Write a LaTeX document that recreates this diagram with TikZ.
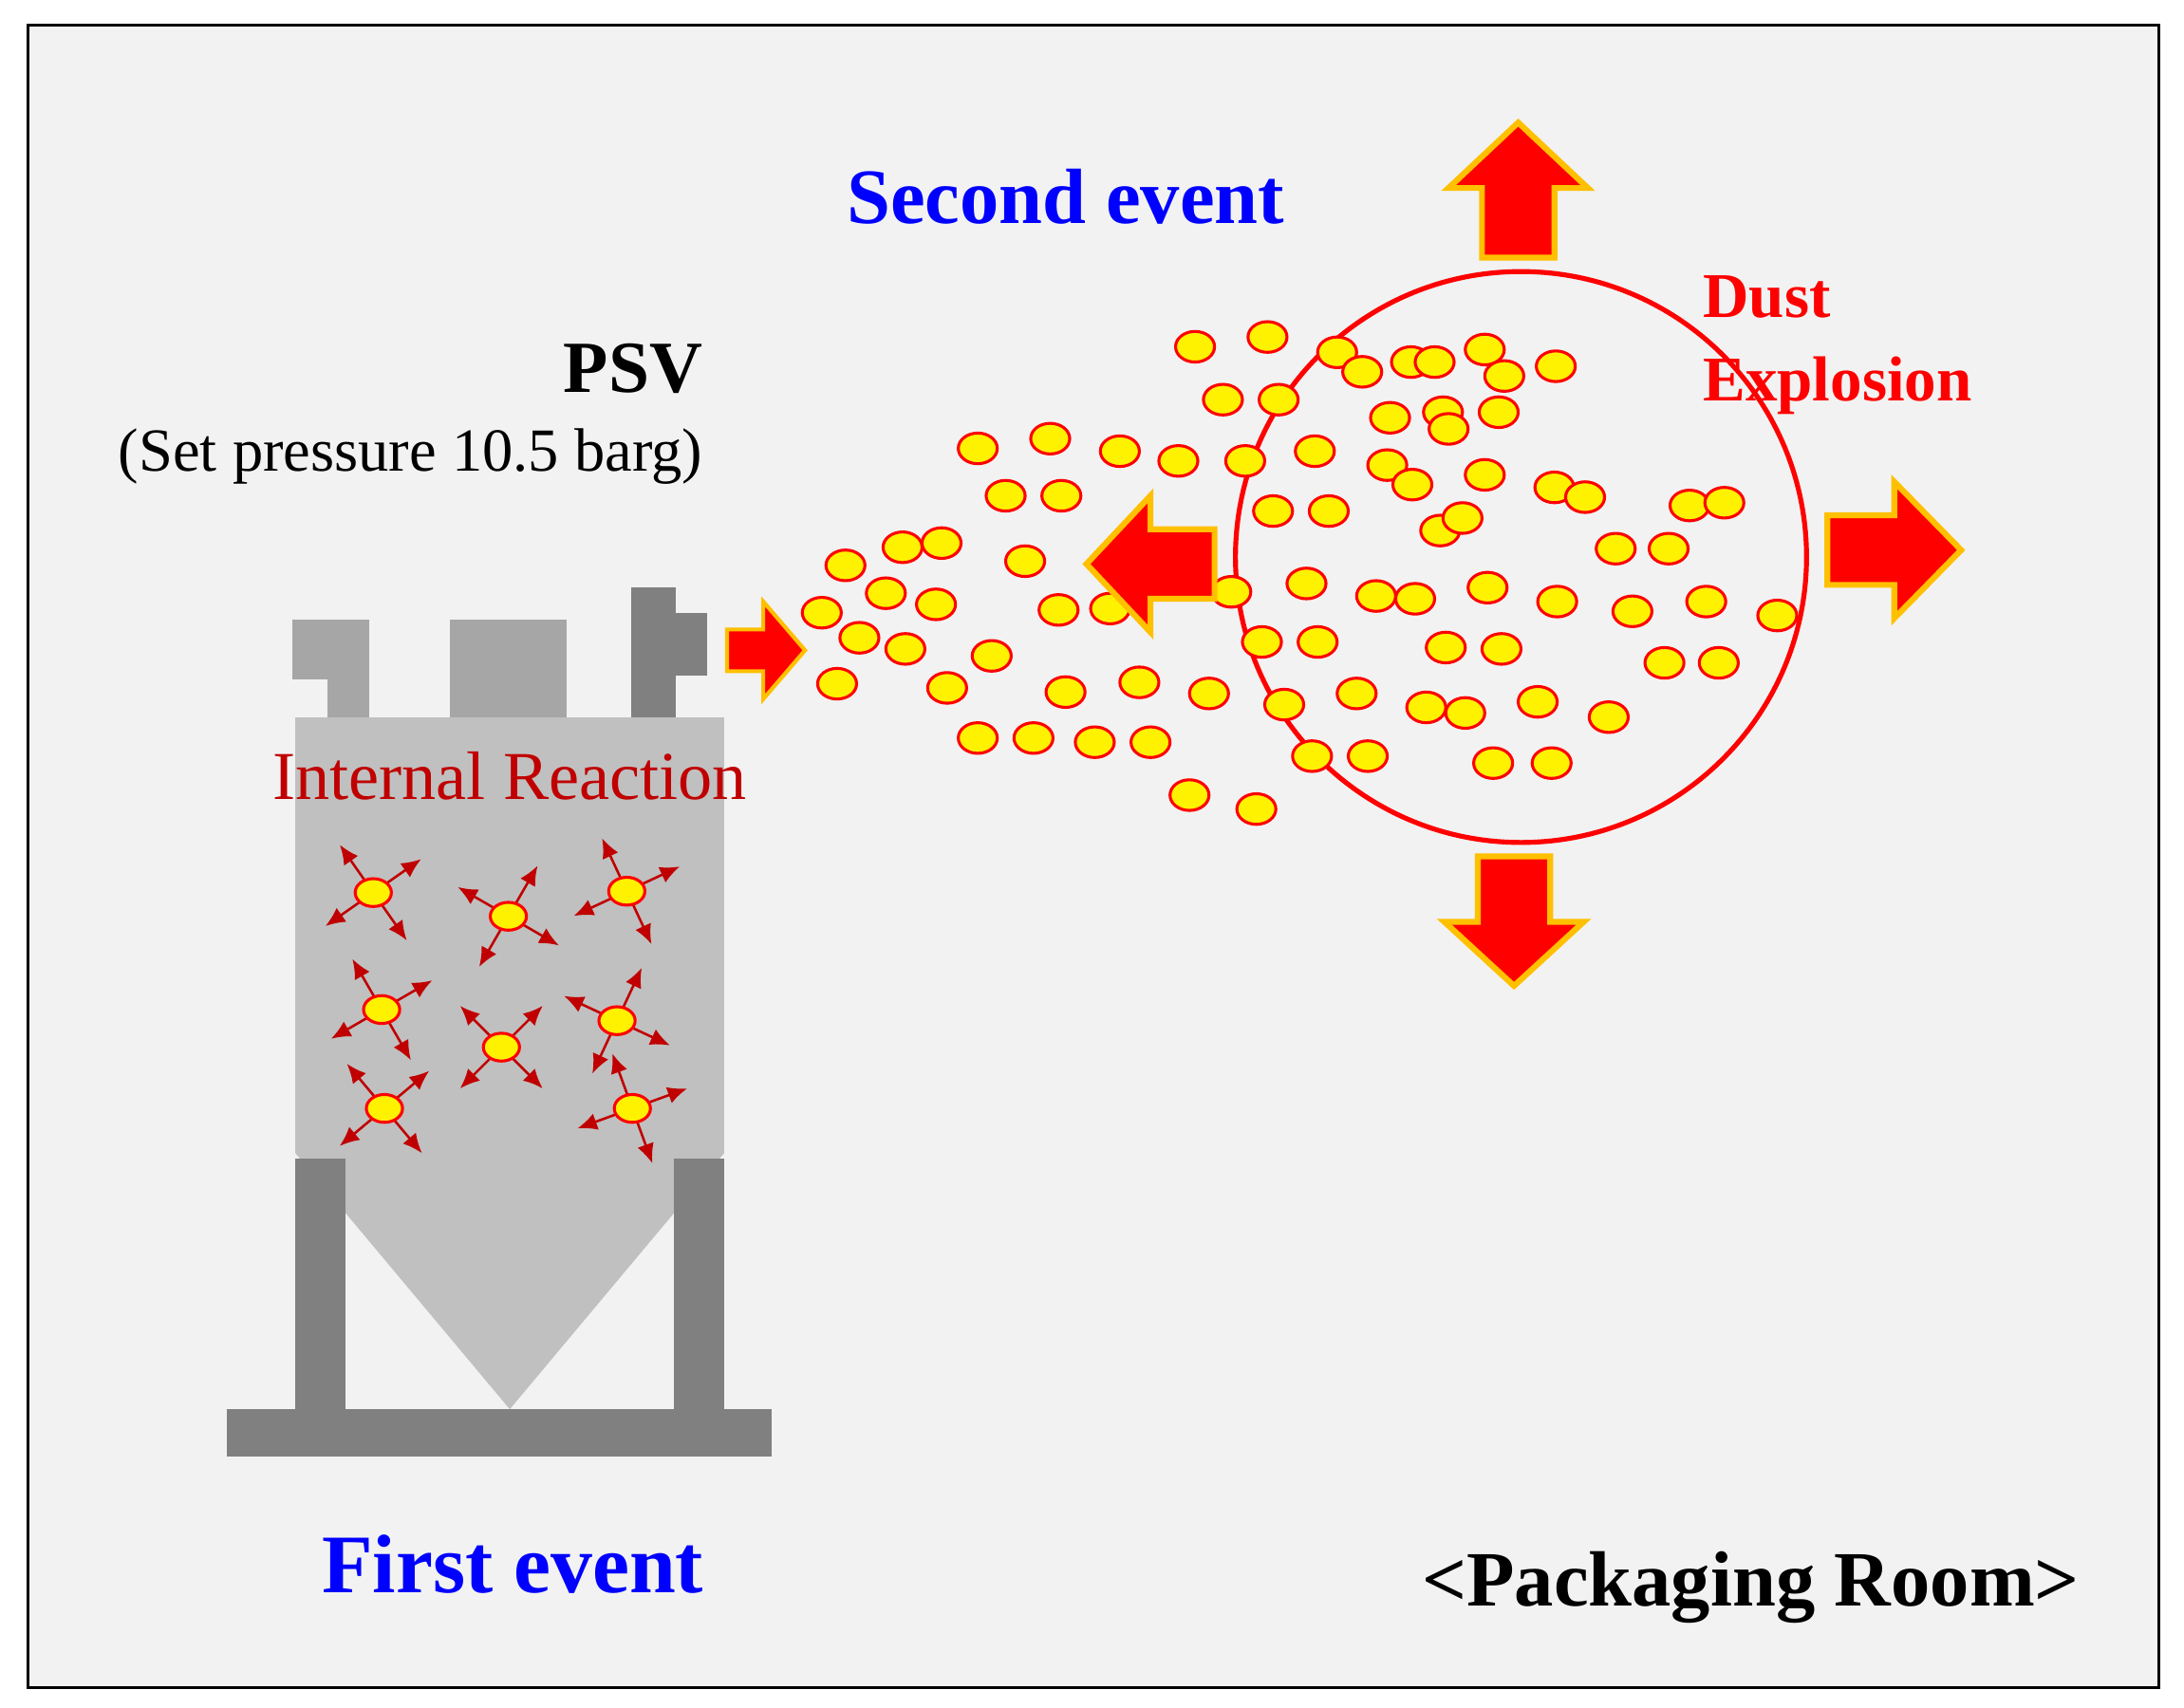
\documentclass[tikz,border=0pt]{standalone}
\usepackage{fontspec}
\setmainfont{Liberation Serif}
\usetikzlibrary{arrows.meta}
\definecolor{bgray}{HTML}{F2F2F2}
\definecolor{body}{HTML}{C0C0C0}
\definecolor{dark}{HTML}{808080}
\definecolor{mid}{HTML}{A6A6A6}
\definecolor{dred}{HTML}{C00000}
\definecolor{hot}{HTML}{FF0000}
\definecolor{edge}{HTML}{FFC000}
\begin{document}
\begin{tikzpicture}[x=0.01cm,y=-0.01cm,
  particle/.style={draw=red,fill=yellow,line width=0.6pt},
  big arrow/.style={fill=hot,draw=edge,line width=1.2pt,line join=miter},
  spark/.style={-{Latex[length=4pt,width=3.5pt]},dred,line width=0.5pt},
  lbl/.style={inner sep=0pt}]
\useasboundingbox (0,0) rectangle (1568,1226);
% room
\draw[fill=bgray,line width=0.6pt] (20,18) rectangle (1550,1212);
% vessel
\fill[body] (212,515) rectangle (520,828);
\fill[body] (212,828) -- (520,828) -- (366,1012) -- cycle;
\fill[dark] (212,832) rectangle (248,1015);
\fill[dark] (484,832) rectangle (520,1015);
\fill[dark] (163,1012) rectangle (554,1046);
\fill[mid] (235,445) rectangle (265,515);
\fill[mid] (210,445) rectangle (265,488);
\fill[mid] (323,445) rectangle (407,515);
\fill[dark] (453,422) rectangle (485,515);
\fill[dark] (453,440) rectangle (508,485);
% PSV outlet arrow
\draw[big arrow,line width=0.8pt] (522,452) -- (548,452) -- (548,432) -- (578,467) -- (548,502) -- (548,482) -- (522,482) -- cycle;
% internal reaction particles
\foreach \x/\y/\r in {268/641/10,365/658/-15,450/640/20,274/725/15,360/752/0,443/733/-20,276/796/5,454/796/25}{
  \foreach \a in {45,135,225,315}
    \draw[spark] (\x,\y) -- ++({\a+\r}:42);
  \draw[particle] (\x,\y) ellipse (13 and 10);
}
% dust cloud
\draw[red,line width=1pt] (1092,400) circle (205);
\foreach \x/\y in {858/249,910/242,960/253,978/267,1013/260,1030/260,1066/251,1080/270,1117/263,
  878/287,918/287,998/300,1036/296,1040/308,1076/296,702/322,754/315,804/324,846/331,894/331,
  944/324,996/334,1014/348,1066/341,1116/350,1138/357,1213/363,1238/361,722/356,762/356,
  914/367,954/367,1034/381,1050/372,1160/394,1198/394,607/406,648/393,676/390,736/403,
  636/426,672/434,590/440,760/438,797/437,884/425,938/419,988/428,1016/430,1068/422,
  1118/432,1172/439,1225/432,1276/442,617/458,650/466,712/471,906/461,946/461,1038/465,
  1078/466,1195/476,1234/476,601/491,680/494,765/497,818/490,868/498,922/506,974/498,
  1024/508,1052/512,1104/504,1155/515,702/530,742/530,786/533,826/533,942/543,982/543,
  1072/548,1114/548,854/571,902/581}
  \draw[particle] (\x,\y) ellipse (14 and 11);
% explosion arrows
\draw[big arrow] (1064,185) -- (1064,135) -- (1040,135) -- (1090,88) -- (1140,135) -- (1116,135) -- (1116,185) -- cycle;
\draw[big arrow] (1061,615) -- (1061,662) -- (1037,662) -- (1087,708) -- (1137,662) -- (1113,662) -- (1113,615) -- cycle;
\draw[big arrow] (1312,370) -- (1360,370) -- (1360,346) -- (1408,395) -- (1360,444) -- (1360,420) -- (1312,420) -- cycle;
\draw[big arrow] (872,380) -- (826,380) -- (826,356) -- (780,405) -- (826,454) -- (826,430) -- (872,430) -- cycle;
% texts
\node[lbl,anchor=east,font=\bfseries\fontsize{15}{17}\selectfont] (psv) at (505,265) {PSV};
\node[lbl,anchor=east,font=\fontsize{12.5}{14}\selectfont] (setp) at (505,328) {(Set pressure 10.5 barg)};
\node[lbl,text=dred,font=\fontsize{14}{16}\selectfont] (ir) at (366,557) {Internal Reaction};
\node[lbl,text=blue,font=\bfseries\fontsize{17}{19}\selectfont] (first) at (368,1123) {First event};
\node[lbl,text=blue,font=\bfseries\fontsize{16}{18}\selectfont] (second) at (765,141) {Second event};
\node[lbl,anchor=west,text=hot,align=left,font=\bfseries\fontsize{13}{17}\selectfont] (dust) at (1222,248) {Dust\\Explosion};
\node[lbl,font=\bfseries\fontsize{16}{18}\selectfont] (room) at (1257,1140) {<Packaging Room>};
\end{tikzpicture}
\end{document}
